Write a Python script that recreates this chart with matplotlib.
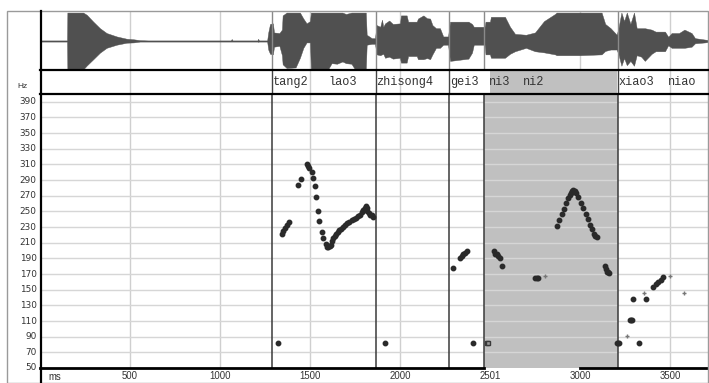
import matplotlib
matplotlib.use("Agg")
import matplotlib.pyplot as plt
from matplotlib.lines import Line2D
from matplotlib.patches import Rectangle

# ---------------- data ----------------
# pitch track (ms, Hz), dark dots
pitch_ms = [1343, 1352, 1363, 1374, 1385, 1435, 1448,
            1485, 1490, 1496, 1509, 1515, 1528, 1533, 1544, 1552, 1567, 1574, 1587, 1596,
            1602, 1609, 1615, 1622, 1630, 1637, 1644, 1654, 1663, 1674, 1685, 1696, 1707,
            1718, 1731, 1744, 1756, 1767, 1778, 1787, 1796, 1803, 1809, 1814, 1818, 1826,
            1833, 1842, 1852,
            1320, 1917, 2407, 3204, 3210, 3217, 3328,
            2296, 2333, 2342, 2352, 2361, 2370,
            2522, 2530, 2537, 2546, 2556, 2565,
            2750, 2759, 2768,
            2874, 2885, 2898, 2911, 2922, 2935, 2942, 2948, 2955, 2963, 2970, 2978, 2991,
            3006, 3019, 3031, 3043, 3056, 3068, 3078, 3086, 3093,
            3139, 3144, 3151, 3157, 3163,
            3278, 3283, 3289, 3296, 3367, 3407, 3422, 3435, 3448, 3459]
pitch_hz = [221, 225, 229, 233, 237, 284, 292,
            311, 308, 305, 300, 293, 283, 268, 251, 238, 224, 216, 209, 205,
            204, 206, 207, 212, 216, 219, 221, 224, 226, 228, 230, 233, 235,
            237, 239, 240, 241, 244, 246, 249, 252, 255, 257, 254, 251, 248,
            246, 245, 243,
            82, 82, 82, 82, 82, 82, 82,
            178, 191, 193, 195, 197, 199,
            199, 196, 195, 193, 191, 180,
            165, 165, 165,
            232, 239, 247, 253, 261, 267, 271, 274, 276, 277, 276, 274, 268,
            261, 254, 247, 240, 233, 227, 221, 219, 217,
            180, 176, 173, 172, 171,
            111, 111, 111, 138, 138, 154, 157, 160, 163, 166]
# faint / uncertain points
faint_ms = [2806, 3356, 3500, 3578, 3263]
faint_hz = [168, 146, 168, 146, 91]
# square markers near 2500 ms
square_ms = [2481, 2490]
square_hz = [82, 82]

# segment boundaries (ms)
bounds_ms = [1289, 1867, 2272, 2467, 3211]
shade_ms = [2467, 3211]
tier_shade_ms = [2500, 3205]

# tier labels
tier_labels = ["tang2", "lao3", "zhisong4", "gei3", "ni3", "ni2", "xiao3", "niao"]
tier_label_ms = [1294, 1600, 1867, 2278, 2492, 2683, 3211, 3490]

# axis ticks
xtick_ms = [500, 1000, 1500, 2000, 2501, 3000, 3500]
xtick_labels = ["500", "1000", "1500", "2000", "2501", "3000", "3500"]
xgrid_ms = [500, 1000, 1500, 2000, 3000, 3500]
ytick_hz = list(range(50, 400, 20))

# waveform envelope (ms, upper amp, lower amp)
wave_ms = [0, 150, 152, 240, 260, 296, 333, 370, 426, 481, 520, 555, 600, 1060, 1065, 1070,
           1208, 1212, 1216, 1262, 1268, 1278, 1294, 1300, 1330, 1344, 1348, 1370, 1420,
           1444, 1463, 1481, 1500, 1505, 1600, 1620, 1650, 1680, 1700, 1730, 1750, 1810,
           1815, 1843, 1861, 1870, 1890, 1900, 1907, 1917, 1940, 1960, 2000, 2005, 2037,
           2045, 2093, 2100, 2130, 2150, 2167, 2180, 2200, 2222, 2240, 2267, 2278, 2380,
           2400, 2410, 2470, 2475, 2500, 2505, 2583, 2611, 2639, 2700, 2750, 2800, 2861,
           2870, 3000, 3120, 3140, 3170, 3204, 3215, 3230, 3245, 3260, 3280, 3300, 3315,
           3340, 3360, 3398, 3420, 3472, 3490, 3509, 3550, 3580, 3620, 3639, 3694, 3717]
wave_top = [0.02, 0.02, 1.0, 1.0, 0.92, 0.68, 0.45, 0.28, 0.16, 0.08, 0.06, 0.03, 0.02, 0.02, 0.07, 0.02,
            0.02, 0.08, 0.02, 0.02, 0.3, 0.6, 0.62, 0.3, 0.28, 0.4, 0.9, 1.0, 1.0,
            1.0, 0.79, 0.62, 0.7, 1.0, 1.0, 1.0, 1.0, 1.0, 0.95, 1.0, 1.0, 1.0,
            0.22, 0.1, 0.1, 0.56, 0.5, 0.75, 0.5, 0.62, 0.72, 0.6, 0.62, 0.9, 0.9,
            0.68, 0.68, 0.79, 0.9, 0.8, 0.79, 0.56, 0.45, 0.45, 0.16, 0.16, 0.68, 0.68,
            0.6, 0.5, 0.5, 0.68, 0.68, 0.85, 0.85, 0.5, 0.25, 0.22, 0.3, 0.7, 0.95,
            1.0, 1.0, 1.0, 0.6, 0.45, 0.22, 0.5, 1.0, 0.7, 1.0, 0.6, 1.0, 0.45,
            0.45, 0.45, 0.4, 0.33, 0.33, 0.15, 0.28, 0.28, 0.4, 0.28, 0.1, 0.05, 0.03]
wave_bot = [-0.02, -0.02, -1.0, -1.0, -0.86, -0.64, -0.41, -0.24, -0.13, -0.06, -0.05, -0.02, -0.02, -0.02, -0.02, -0.02,
            -0.02, -0.03, -0.02, -0.02, -0.3, -0.45, -0.47, -0.2, -0.17, -0.5, -0.82, -0.95, -0.93,
            -0.59, -0.24, -0.05, -0.05, -1.0, -1.0, -0.78, -0.8, -0.72, -0.78, -0.8, -1.0, -1.0,
            -0.13, -0.1, -0.1, -0.47, -0.5, -0.47, -0.45, -0.59, -0.55, -0.62, -0.59, -0.76, -0.76,
            -0.53, -0.53, -0.64, -0.64, -0.6, -0.64, -0.47, -0.24, -0.24, -0.13, -0.13, -0.7, -0.62,
            -0.41, -0.13, -0.13, -0.47, -0.47, -0.59, -0.59, -0.45, -0.36, -0.24, -0.36, -0.4, -0.47,
            -0.5, -0.5, -0.47, -0.35, -0.3, -0.3, -0.5, -0.87, -0.6, -0.85, -0.7, -0.87, -0.5,
            -0.55, -0.7, -0.45, -0.36, -0.36, -0.15, -0.24, -0.24, -0.24, -0.2, -0.08, -0.05, -0.03]

# ---------------- layout ----------------
W, H = 709, 383
fig = plt.figure(figsize=(W / 100, H / 100), dpi=100)
XMAX = (W - 40) / 0.18

def ax_at(x0, y0, x1, y1):
    a = fig.add_axes([x0 / W, 1 - y1 / H, (x1 - x0) / W, (y1 - y0) / H])
    a.set_xlim(0, XMAX)
    a.set_xticks([])
    a.set_yticks([])
    for s in a.spines.values():
        s.set_visible(False)
    return a

GRID = "#cfcfcf"
ytick_font = dict(family="DejaVu Sans", size=6.4, color="#333333")
xtick_font = dict(family="Liberation Sans", size=6.9, color="#333333")

# outer frame
fig.add_artist(Rectangle((7 / W, 0), (W - 8) / W, 1 - 11 / H, transform=fig.transFigure,
                         fill=False, edgecolor="#9a9a9a", lw=1.0))

# waveform panel
axw = ax_at(40, 12, W, 70)
axw.set_ylim(-1.02, 1.02)
for g in xgrid_ms:
    axw.axvline(g, color=GRID, lw=1.0, zorder=0)
axw.axhline(0, color="#8a8a8a", lw=0.8, zorder=1)
axw.fill_between(wave_ms, wave_bot, wave_top, color="#505050", lw=0.3, edgecolor="#505050", zorder=2)
for b in bounds_ms:
    axw.axvline(b, color="#8a8a8a", lw=1.0, zorder=3)

# tier panel
axt = ax_at(40, 70, W, 94)
axt.set_ylim(0, 1)
for g in xgrid_ms:
    axt.axvline(g, color=GRID, lw=1.0, zorder=0)
axt.axvspan(tier_shade_ms[0], tier_shade_ms[1], color="#c0c0c0", lw=0, zorder=0.5)
for b in bounds_ms:
    if b != shade_ms[0]:
        axt.axvline(b, color="#444444", lw=1.0, zorder=2)
for lab, t in zip(tier_labels, tier_label_ms):
    axt.text(t, 0.5, lab, family="Liberation Mono", fontsize=8.6, color="#333333",
             ha="left", va="center", zorder=3)
fig.add_artist(Line2D([40 / W, 1], [1 - 70 / H] * 2, color="black", lw=1.6))
fig.add_artist(Line2D([40 / W, 1], [1 - 94 / H] * 2, color="black", lw=1.6))

# pitch panel
axp = ax_at(40, 94, W, 368)
axp.set_ylim(50, 400)
for g in xgrid_ms:
    axp.axvline(g, color=GRID, lw=1.0, zorder=0)
axp.axvspan(shade_ms[0], shade_ms[1], color="#c0c0c0", lw=0, zorder=0.5)
for h in ytick_hz[1:]:
    axp.axhline(h, color="#d6d6d6", lw=1.0, zorder=1)
for b in bounds_ms:
    axp.axvline(b, color="#3a3a3a", lw=1.1, zorder=2)
axp.plot(pitch_ms, pitch_hz, "o", ms=3.2, color="#2a2a2a", mec="#2a2a2a", zorder=4)
axp.plot(square_ms, square_hz, "s", ms=3.0, color="#3a3a3a", mfc="#9a9a9a", zorder=4)
axp.plot(faint_ms, faint_hz, "+", ms=3.5, color="#777777", mew=1.0, zorder=4)
# bottom axis line (hidden under part of the shading)
axp.plot([0, shade_ms[0]], [50, 50], color="black", lw=2.0, clip_on=False, zorder=5)
axp.plot([3000, XMAX], [50, 50], color="black", lw=2.0, clip_on=False, zorder=5)

# tick labels
for h in ytick_hz:
    axp.text(-0.005, h, str(h), transform=axp.get_yaxis_transform(),
             ha="right", va="center", **ytick_font)
for t, lab in zip(xtick_ms, xtick_labels):
    axp.text(t, -0.03, lab, transform=axp.get_xaxis_transform(),
             ha="center", va="center", **xtick_font)
fig.text(55 / W, 1 - 377 / H, "ms", ha="center", va="center", **xtick_font)
fig.text(22 / W, 1 - 87 / H, "Hz", ha="center", va="center", family="Liberation Sans",
         size=6, color="#333333")

# left black border
fig.add_artist(Line2D([41 / W, 41 / W], [0, 1 - 11 / H], color="black", lw=1.6))

fig.savefig("out.png", dpi=100)
